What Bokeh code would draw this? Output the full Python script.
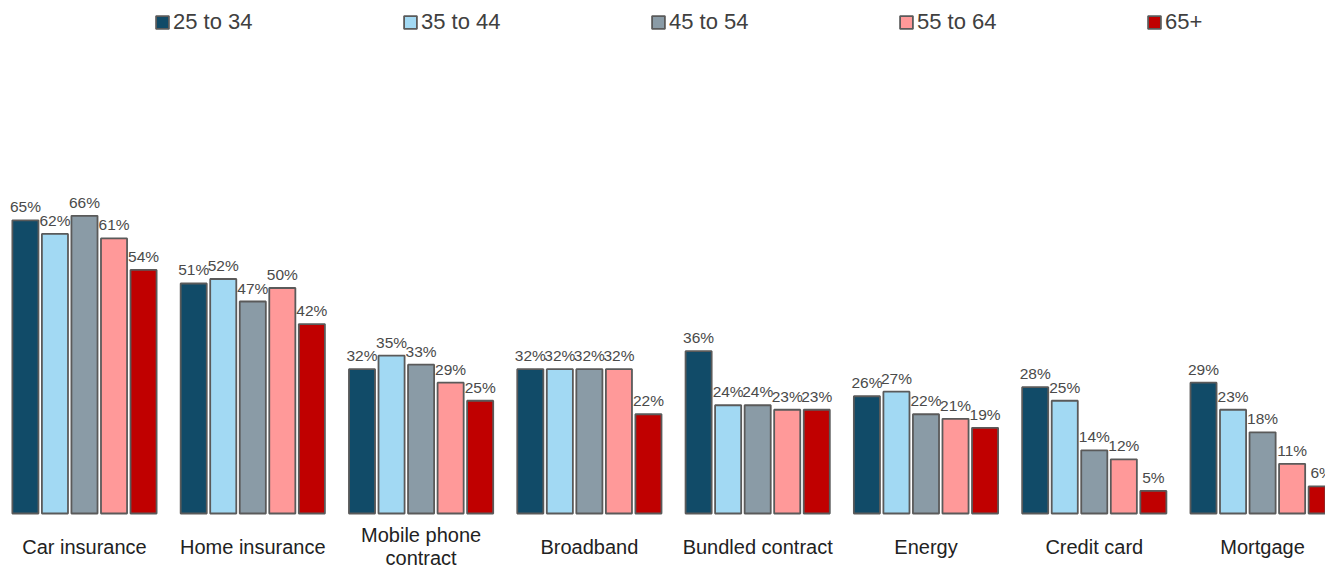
from bokeh.plotting import figure
from bokeh.models import Range1d, ColumnDataSource, Legend, LegendItem
from bokeh.core.properties import value
from bokeh.embed import file_html
from bokeh.resources import INLINE

categories = ["Car insurance", "Home insurance", "Mobile phone\ncontract", "Broadband",
              "Bundled contract", "Energy", "Credit card", "Mortgage"]
series_names = ["25 to 34", "35 to 44", "45 to 54", "55 to 64", "65+"]
v_25_34 = [65, 51, 32, 32, 36, 26, 28, 29]
v_35_44 = [62, 52, 35, 32, 24, 27, 25, 23]
v_45_54 = [66, 47, 33, 32, 24, 22, 14, 18]
v_55_64 = [61, 50, 29, 32, 23, 21, 12, 11]
v_65_plus = [54, 42, 25, 22, 23, 19, 5, 6]
series_values = [v_25_34, v_35_44, v_45_54, v_55_64, v_65_plus]
colors = ["#114B68", "#A2D9F3", "#8A9BA6", "#FF9999", "#C00000"]

W, H = 1325, 568
p = figure(width=W, height=H, output_backend="svg", toolbar_location=None,
           x_range=Range1d(-0.499, -0.499 + W / 168.3),
           y_range=Range1d(-12.2, 113.75),
           x_axis_location=None, y_axis_location=None,
           min_border=0, min_border_left=0, min_border_right=0,
           min_border_top=0, min_border_bottom=0)
p.outline_line_color = None
p.xgrid.visible = False
p.ygrid.visible = False
p.background_fill_color = "white"

step = 0.1755
bw = 0.155
FONT = value("Liberation Sans")
items = []
for k, (name, vals, col) in enumerate(zip(series_names, series_values, colors)):
    xs = [i + (k - 2) * step for i in range(len(categories))]
    src = ColumnDataSource(dict(x=xs, top=vals, lab=[f"{v}%" for v in vals]))
    r = p.vbar(x="x", top="top", bottom=0, width=bw, source=src,
               fill_color=col, line_color="#5a5a5a", line_width=1.8)
    p.text(x="x", y="top", text="lab", source=src, text_align="center",
           text_baseline="bottom", y_offset=-5, text_font=FONT,
           text_font_size="15.5px", text_color="#4a4a4a")
    items.append(LegendItem(label=name, renderers=[r]))

csrc = ColumnDataSource(dict(x=list(range(len(categories))), y=[-7.35] * len(categories),
                             t=categories))
p.text(x="x", y="y", text="t", source=csrc, text_align="center", text_baseline="middle",
       text_font=FONT, text_font_size="20px", text_color="#222222", text_line_height=1.05)

legend = Legend(items=items, orientation="horizontal", location=(154, 533),
                glyph_width=16, glyph_height=16, label_standoff=3, label_width=229,
                label_height=16, spacing=0, padding=0, margin=0,
                border_line_color=None, background_fill_alpha=0,
                label_text_font="Liberation Sans", label_text_font_size="22px",
                label_text_color="#404040")
p.add_layout(legend)

open("out.html", "w").write(file_html(p, INLINE))
